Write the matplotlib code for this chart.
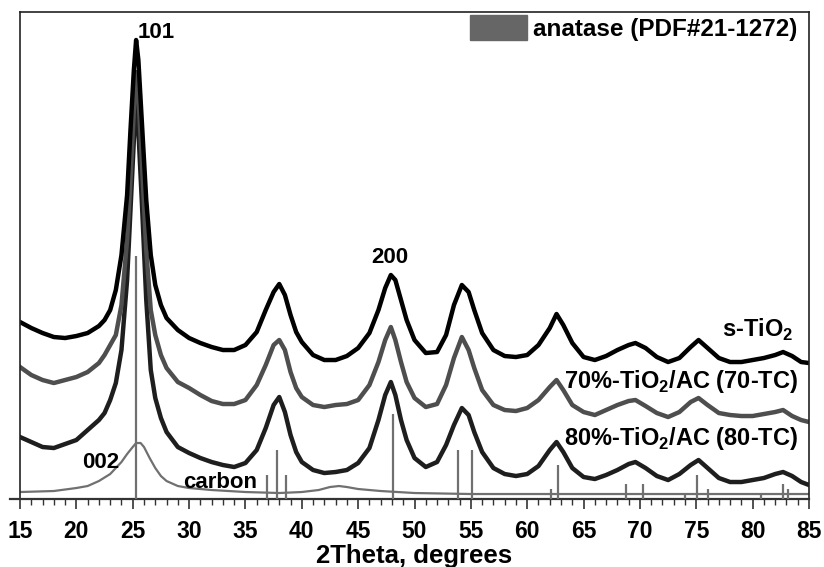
import matplotlib
matplotlib.use("Agg")
import matplotlib.pyplot as plt
from matplotlib.patches import Patch
from matplotlib.ticker import MultipleLocator

plt.rcParams['font.family'] = ['Liberation Sans', 'DejaVu Sans']
plt.rcParams['font.weight'] = 'bold'
plt.rcParams['mathtext.fontset'] = 'custom'
plt.rcParams['mathtext.rm'] = 'Liberation Sans:bold'
plt.rcParams['mathtext.bf'] = 'Liberation Sans:bold'

# 2theta grid shared by the three sample patterns
two_theta = [15, 16, 17, 18, 19, 20, 21, 22,
             22.5, 23, 23.5, 24, 24.5, 24.8, 25.1, 25.3, 25.5, 25.8, 26.2, 26.6, 27, 27.5, 28,
             29, 30, 31, 32, 33, 34, 35, 36,
             36.8, 37.5, 38, 38.5, 39, 39.5, 40,
             41, 42, 43, 44, 45, 46,
             46.8, 47.4, 47.9, 48.3, 48.8, 49.3, 50,
             51, 52, 52.8, 53.5, 54.2, 54.8, 55.3, 56,
             57, 58, 59, 60, 61, 62,
             62.6, 63.2,
             64, 65, 66, 67, 68, 69,
             69.6, 70.5, 71.5, 72.5, 73.5, 74.5, 75.2,
             76, 77, 78, 79, 80, 81, 82,
             82.7, 83.5, 84.3, 85]

# intensities (a.u., already offset as stacked in the figure)
s_tio2 = [177, 171, 166, 162, 161, 163, 166, 173,
          179, 189, 209, 244, 304, 369, 429, 459, 439, 379, 299, 244, 214, 194, 181,
          169, 161, 156, 152, 149, 149, 154, 167,
          189, 207, 215, 204, 184, 167, 157,
          144, 139, 139, 143, 151, 166,
          189, 211, 224, 219, 199, 179, 159,
          146, 147, 164, 194, 214, 207, 189, 166,
          149, 143, 142, 144, 154, 171,
          185, 174,
          156, 142, 139, 143, 149, 154,
          156, 151, 142, 137, 141, 152, 159,
          151, 141, 137, 137, 139, 141, 144,
          147, 143, 137, 136]

tc70 = [132, 124, 119, 116, 119, 122, 127, 136,
        144, 154, 164, 194, 259, 319, 389, 427, 404, 339, 249, 189, 164, 144, 131,
        117, 111, 104, 98, 95, 95, 99, 114,
        134, 154, 159, 149, 127, 111, 102,
        94, 92, 94, 95, 99, 114,
        137, 159, 172, 159, 137, 117, 101,
        92, 95, 114, 141, 162, 149, 131, 109,
        94, 89, 88, 91, 99, 112,
        119, 109,
        94, 87, 84, 89, 94, 98,
        99, 93, 86, 82, 87, 97, 101,
        94, 86, 84, 83, 83, 85, 87,
        89, 83, 79, 77]

tc80 = [62, 57, 52, 51, 55, 59, 69, 79,
        86, 99, 116, 149, 219, 289, 359, 394, 369, 299, 199, 129, 101, 81, 67,
        52, 46, 41, 37, 34, 32, 36, 49,
        71, 94, 102, 87, 64, 47, 37,
        29, 26, 27, 29, 36, 51,
        79, 104, 117, 104, 79, 59, 41,
        32, 37, 54, 74, 91, 84, 67, 47,
        31, 25, 23, 25, 33, 49,
        57, 47,
        31, 22, 20, 24, 29, 35,
        37, 31, 23, 19, 25, 34, 39,
        31, 21, 17, 17, 19, 21, 25,
        27, 23, 17, 14]

carbon_theta = [15, 18, 20, 21, 22, 23, 23.5, 24, 24.5, 25, 25.3, 25.7, 26, 26.5, 27, 27.5,
                28, 29, 30, 32, 35, 38, 40, 41.5, 42.5, 43.3, 44, 45, 47, 50, 55, 60, 70, 85]
carbon = [7, 8, 11, 13, 18, 25, 31, 37, 45, 52, 56, 56, 52, 41, 31, 23,
          18, 13, 11, 9, 7, 6, 7, 9, 12, 13, 12, 10, 8, 6, 5, 5, 5, 5]

# anatase PDF#21-1272 reference lines
anatase_pos = [25.28, 36.95, 37.80, 38.58, 48.05, 53.89, 55.06, 62.12, 62.69,
               68.76, 70.31, 74.03, 75.03, 76.02, 80.73, 82.66, 83.15]
anatase_int = [100, 10, 20, 10, 35, 20, 20, 4, 14, 6, 6, 2, 10, 4, 2, 6, 4]
stick_scale = 2.43

fig = plt.figure(figsize=(8.24, 5.67), dpi=100)
ax = fig.add_axes([0.0243, 0.1199, 0.9575, 0.8589])

ax.plot(carbon_theta, carbon, color='#707070', lw=1.6)
ax.plot(two_theta, tc80, color='#1e1e1e', lw=3.2)
ax.plot(two_theta, tc70, color='#4e4e4e', lw=3.2)
ax.plot(two_theta, s_tio2, color='#000000', lw=3.2)
ax.vlines(anatase_pos, 0, [v * stick_scale for v in anatase_int],
          color='#707070', lw=1.6, zorder=4)

ax.set_xlim(15, 85)
ax.set_ylim(0, 487)
ax.set_yticks([])
ax.xaxis.set_major_locator(MultipleLocator(5))
ax.xaxis.set_minor_locator(MultipleLocator(1))
ax.tick_params(axis='x', which='major', length=7, width=1.2, color='#333333',
               labelsize=16.5, pad=8)
ax.tick_params(axis='x', which='minor', length=4.3, width=1.0, color='#333333')
for lab in ax.get_xticklabels():
    lab.set_fontweight('bold')

for side in ['left', 'top', 'right']:
    ax.spines[side].set_linewidth(1.2)
    ax.spines[side].set_color('#222222')
ax.spines['bottom'].set_linewidth(1.6)
ax.spines['bottom'].set_color('#333333')
ax.spines['bottom'].set_bounds(14.1, 85)

ax.set_xlabel('2Theta, degrees', fontsize=18.5, fontweight='bold', va='baseline')
ax.xaxis.set_label_coords(0.5, -0.131)

ax.text(27.1, 467, '101', fontsize=16, fontweight='bold', ha='center', va='center')
ax.text(47.8, 242, '200', fontsize=16, fontweight='bold', ha='center', va='center')
ax.text(22.2, 37, '002', fontsize=16, fontweight='bold', ha='center', va='center')
ax.text(32.75, 17, 'carbon', fontsize=16, fontweight='bold', ha='center', va='center')
ax.text(80.4, 162, 's-TiO$_2$', fontsize=17, ha='center', va='baseline')
ax.text(73.65, 111, '70%-TiO$_2$/AC (70-TC)', fontsize=17, ha='center', va='baseline')
ax.text(73.65, 54, '80%-TiO$_2$/AC (80-TC)', fontsize=17, ha='center', va='baseline')

ax.legend(handles=[Patch(facecolor='#666666', edgecolor='#666666')],
          labels=['anatase (PDF#21-1272)'], loc='upper right',
          bbox_to_anchor=(0.985, 0.994), frameon=False, fontsize=17.5,
          handlelength=2.35, handleheight=1.19, handletextpad=0.25,
          borderaxespad=0, borderpad=0)

fig.savefig('out.png', dpi=100)
